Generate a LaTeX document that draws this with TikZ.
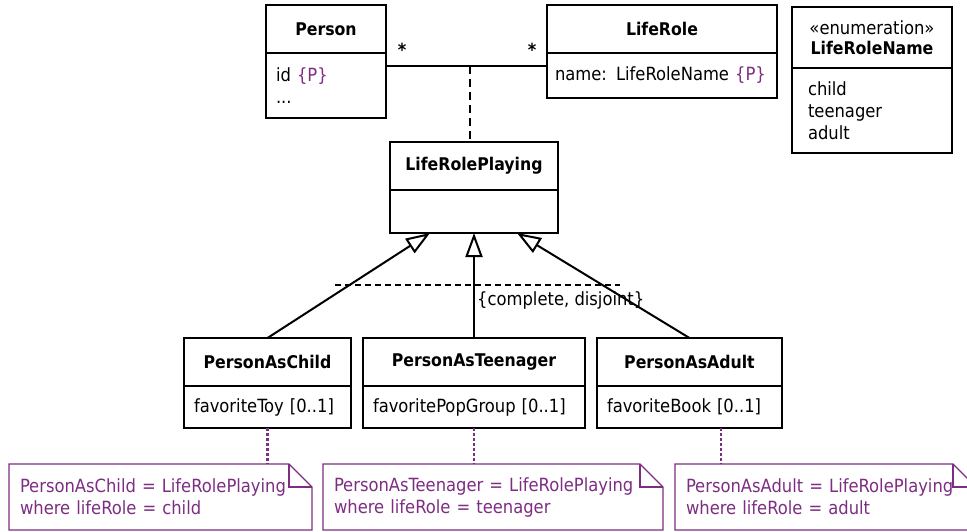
\documentclass[tikz,border=0pt]{standalone}
\usepackage{fontspec}
\setmainfont{DejaVu Sans Condensed}
\usetikzlibrary{positioning,arrows.meta}

\definecolor{lila}{RGB}{125,45,130}

\tikzset{
	box/.style = {draw, line width=2.2pt, inner sep=0pt, outer sep=0pt},
	head/.style = {box, align=center, font=\fontsize{17.5}{20}\selectfont\bfseries},
	body/.style = {box, align=left, inner xsep=10pt},
	gen/.style = {line width=2pt, -{Triangle[open, length=24pt, width=17pt]}},
	assoc/.style = {line width=2pt},
	assocdash/.style = {line width=2.6pt, dash pattern=on 8pt off 5pt},
	setdash/.style = {line width=2.6pt, dash pattern=on 6pt off 4pt},
	dots/.style = {lila, line width=2.8pt, dash pattern=on 3pt off 2pt},
	notebox/.style = {text=lila, align=left, inner xsep=11pt, inner ysep=0pt, outer sep=0pt, minimum height=66pt, anchor=north west},
	noteline/.style = {lila, line width=1.4pt, line join=miter}
}

\begin{document}
\begin{tikzpicture}[x=1pt, y=-1pt, font=\fontsize{18.2}{22}\selectfont]

\useasboundingbox (0,0) rectangle (967,531);

\def \knick {23}

%Klassen oben
\node [head, minimum width=120pt, minimum height=48pt] (person) at (326,29) {Person};
\node [body, text width=100pt, minimum height=65pt, below=0pt of person] (personb) {id \textcolor{lila}{\{P\}}\\...};

\node [head, minimum width=230pt, minimum height=48pt] (role) at (662,29) {LifeRole};
\node [body, inner xsep=8pt, text width=214pt, minimum height=45pt, below=0pt of role] (roleb) {name: LifeRoleName \textcolor{lila}{\{P\}}};

\node [head, minimum width=160pt, minimum height=61pt] (enum) at (872,37.5) {{\mdseries\fontsize{18.2}{20}\selectfont «enumeration»}\\LifeRoleName};
\node [body, inner xsep=16pt, text width=128pt, minimum height=85pt, below=0pt of enum] (enumb) {child\\teenager\\adult};

%Assoziationsklasse
\node [head, minimum width=168pt, minimum height=48pt] (lrp) at (474,166) {LifeRolePlaying};
\node [body, text width=148pt, minimum height=43pt, below=0pt of lrp] (lrpb) {};

%Unterklassen
\node [head, minimum width=167pt, minimum height=48pt] (pac) at (267.5,362) {PersonAsChild};
\node [body, text width=147pt, minimum height=42pt, below=0pt of pac] (pacb) {favoriteToy [0..1]};

\node [head, minimum width=222pt, minimum height=48pt] (pat) at (474,362) {PersonAsTeenager};
\node [body, text width=202pt, minimum height=42pt, below=0pt of pat] (patb) {favoritePopGroup [0..1]};

\node [head, minimum width=185pt, minimum height=48pt] (paa) at (689.5,362) {PersonAsAdult};
\node [body, text width=165pt, minimum height=42pt, below=0pt of paa] (paab) {favoriteBook [0..1]};

%Assoziation
\draw [assoc] ([yshift=-13pt]personb.north east) -- ([yshift=-13pt]roleb.north west);
\node [font=\fontsize{18}{22}\selectfont\bfseries] (m1) at (402,50) {*};
\node [font=\fontsize{18}{22}\selectfont\bfseries] (m2) at (532,50) {*};

\coordinate (am) at (470,66);
\draw [assocdash] (am) -- (am |- lrp.north);

%Generalisierung
\node [anchor=west, inner sep=0pt] (gs) at (477,300) {\{complete, disjoint\}};

\coordinate (g1) at ([xshift=-44pt]lrpb.south);
\coordinate (g2) at (lrpb.south);
\coordinate (g3) at ([xshift=43pt]lrpb.south);

\foreach \k/\g in {pac/g1,pat/g2,paa/g3}{
	\draw [gen] (\k.north) -- (\g);
}

\coordinate (s1) at (335,285);
\coordinate (s2) at (620,285);
\draw [setdash] (s1) -- (s2);

%Notizen
\node [notebox, text width=281pt] (n1) at (9,464) {PersonAsChild = LifeRolePlaying\\where lifeRole = child};
\node [notebox, text width=318pt] (n2) at (323,464) {PersonAsTeenager = LifeRolePlaying\\where lifeRole = teenager};
\node [notebox, text width=279pt] (n3) at (675,464) {PersonAsAdult = LifeRolePlaying\\where lifeRole = adult};

\foreach \n in {n1,n2,n3}{
	\draw [noteline] (\n.south west) |- ([xshift=-\knick pt]\n.north east) -- ([yshift=-\knick pt]\n.north east) -- (\n.south east) -- cycle;
	\draw [noteline] ([xshift=-\knick pt]\n.north east) |- ([yshift=-\knick pt]\n.north east);
}

\foreach \cl/\n/\s in {pacb/n1/0,patb/n2/0,paab/n3/31.5}{
	\draw [dots] ([xshift=\s pt]\cl.south) coordinate (d) -- (d |- \n.north);
}

\end{tikzpicture}
\end{document}
